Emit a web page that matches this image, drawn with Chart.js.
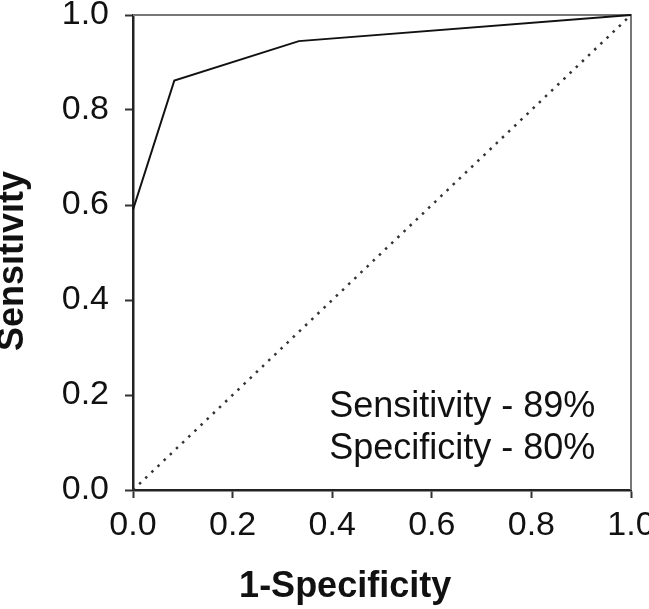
<!DOCTYPE html>
<html>
<head>
<meta charset="utf-8">
<script src="https://cdn.jsdelivr.net/npm/chart.js@4/dist/chart.umd.min.js"></script>
<style>
  html, body { margin: 0; padding: 0; background: #fff; }
  #wrap { width: 649px; height: 609px; position: relative; }
</style>
</head>
<body>
<div id="wrap"><canvas id="c" width="649" height="609"></canvas></div>
<script>
// ---- data ----
const rocFPR = [0, 0.083, 0.333, 1];
const rocTPR = [0.59, 0.862, 0.945, 1];
const refLineX = [0, 1];
const refLineY = [0, 1];
const tickValues = [0, 0.2, 0.4, 0.6, 0.8, 1.0];
const xTitle = '1-Specificity';
const yTitle = 'Sensitivity';
const noteLines = ['Sensitivity - 89%', 'Specificity - 80%'];
const noteX = 0.394;
const noteY = [0.154, 0.065];

const FONT = '"Liberation Sans", Arial, Helvetica, sans-serif';

const frameAndNotes = {
  id: 'frameAndNotes',
  beforeDatasetsDraw(chart) {
    const {ctx, chartArea: a} = chart;
    ctx.save();
    ctx.strokeStyle = '#777';
    ctx.lineWidth = 2;
    ctx.beginPath();
    ctx.moveTo(a.left, a.top);
    ctx.lineTo(a.right, a.top);
    ctx.lineTo(a.right, a.bottom);
    ctx.stroke();
    ctx.restore();
  },
  afterDraw(chart) {
    const {ctx, scales, chartArea: a} = chart;
    ctx.save();
    ctx.fillStyle = '#111';
    // annotation
    ctx.font = '36px ' + FONT;
    ctx.textAlign = 'left';
    ctx.textBaseline = 'alphabetic';
    const px = scales.x.getPixelForValue(noteX);
    noteLines.forEach((t, i) => {
      ctx.fillText(t, px, scales.y.getPixelForValue(noteY[i]));
    });
    // axis titles
    ctx.font = 'bold 36px ' + FONT;
    ctx.textAlign = 'center';
    ctx.fillText(xTitle, scales.x.getPixelForValue(0.426), a.bottom + 107);
    ctx.translate(23, scales.y.getPixelForValue(0.482));
    ctx.rotate(-Math.PI / 2);
    ctx.fillText(yTitle, 0, 0);
    ctx.restore();
  }
};

function zeroPad(s) {
  s.paddingLeft = 0; s.paddingRight = 0; s.paddingTop = 0; s.paddingBottom = 0;
}

new Chart(document.getElementById('c'), {
  type: 'scatter',
  data: {
    datasets: [
      {
        data: rocFPR.map((v, i) => ({x: v, y: rocTPR[i]})),
        showLine: true,
        borderColor: '#111',
        borderWidth: 2,
        pointRadius: 0,
        fill: false,
        clip: false,
        tension: 0
      },
      {
        data: refLineX.map((v, i) => ({x: v, y: refLineY[i]})),
        showLine: true,
        borderColor: '#333',
        borderWidth: 2.5,
        borderDash: [2.5, 6],
        pointRadius: 0,
        fill: false,
        clip: false
      }
    ]
  },
  options: {
    responsive: false,
    animation: false,
    events: [],
    layout: { padding: { left: 0, top: 15, right: 18, bottom: 0 }, autoPadding: false },
    plugins: { legend: { display: false }, tooltip: { enabled: false } },
    scales: {
      x: {
        type: 'linear', min: 0, max: 1,
        afterBuildTicks: s => { s.ticks = tickValues.map(v => ({value: v})); },
        afterFit: s => { s.height = 119; zeroPad(s); },
        ticks: {
          color: '#111',
          font: { family: FONT, size: 34, lineHeight: 1.2 },
          padding: 7,
          maxRotation: 0,
          callback: v => v.toFixed(1)
        },
        grid: { drawOnChartArea: false, drawTicks: true, tickLength: 8, tickWidth: 2, tickColor: '#333' },
        border: { display: true, color: '#222', width: 2.5 },
        title: { display: false, text: xTitle }
      },
      y: {
        type: 'linear', min: 0, max: 1,
        afterBuildTicks: s => { s.ticks = tickValues.map(v => ({value: v})); },
        afterFit: s => { s.width = 133; zeroPad(s); },
        ticks: {
          color: '#111',
          font: { family: FONT, size: 34, lineHeight: 1.2 },
          padding: 16,
          callback: v => v.toFixed(1)
        },
        grid: { drawOnChartArea: false, drawTicks: true, tickLength: 8, tickWidth: 2, tickColor: '#333' },
        border: { display: true, color: '#222', width: 2.5 },
        title: { display: false, text: yTitle }
      }
    }
  },
  plugins: [frameAndNotes]
});
</script>
</body>
</html>
